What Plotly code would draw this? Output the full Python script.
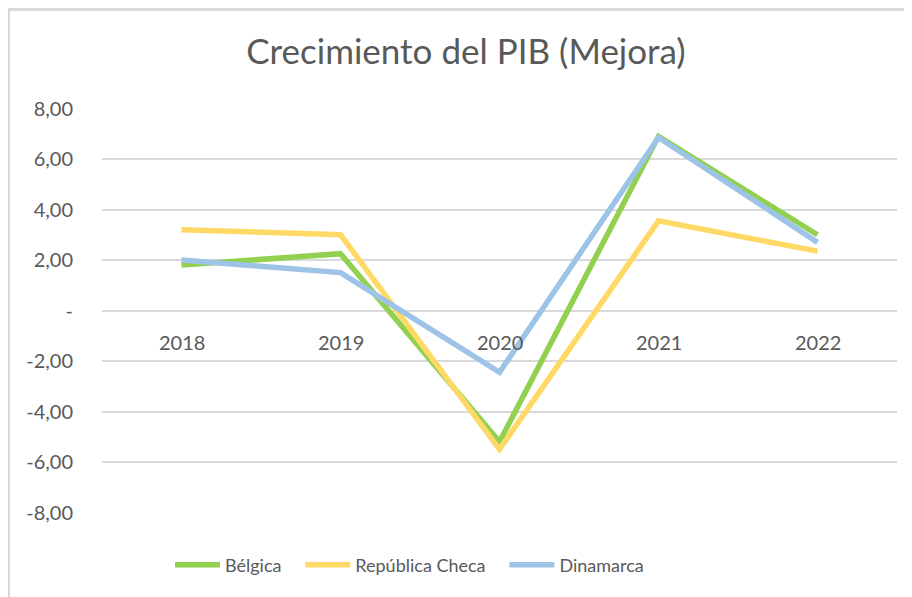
import plotly.graph_objects as go

years = ["2018", "2019", "2020", "2021", "2022"]
belgica = [1.8, 2.25, -5.2, 6.9, 3.0]
rep_checa = [3.2, 3.0, -5.5, 3.55, 2.35]
dinamarca = [2.0, 1.5, -2.45, 6.85, 2.7]
series_names = ["Bélgica", "República Checa", "Dinamarca"]

y_tickvals = [8, 6, 4, 2, 0, -2, -4, -6, -8]
y_ticktext = ["8,00", "6,00", "4,00", "2,00", "-", "-2,00", "-4,00", "-6,00", "-8,00"]

# page has an 8px body margin; positions below are in figure coordinates
OFF = 8
W, H = 912, 597
L, R, T, B = 102 - OFF, 897 - OFF, 108 - OFF, 513 - OFF

FONT = "Lato"
GREY = "#595959"
GRID = "#d9d9d9"
PAD = "\u00a0" * 3

fig = go.Figure()
colors = ["#92d050", "#ffd966", "#9dc3e6"]
for name, vals, col in zip(series_names, [belgica, rep_checa, dinamarca], colors):
    fig.add_trace(go.Scatter(x=years, y=vals, name=name + PAD, mode="lines",
                             line=dict(color=col, width=5.5)))

# x category labels placed next to the zero line
for i, yr in enumerate(years):
    fig.add_annotation(x=i, y=0, text=yr, showarrow=False, yanchor="middle",
                       yshift=-31, font=dict(family=FONT, size=20, color=GREY))

pw, ph = R - L, B - T
def px(xp):
    return (xp - OFF - L) / pw
def py(yp):
    return (B - (yp - OFF)) / ph

# chart border (top and left visible)
fig.add_shape(type="line", xref="paper", yref="paper", x0=px(7), x1=px(925),
              y0=py(9.5), y1=py(9.5), line=dict(color=GRID, width=3))
fig.add_shape(type="line", xref="paper", yref="paper", x0=px(8.5), x1=px(8.5),
              y0=py(9.5), y1=py(610), line=dict(color=GRID, width=3))

fig.update_layout(
    width=W, height=H,
    margin=dict(l=L, r=W - R, t=T, b=H - B, autoexpand=False),
    paper_bgcolor="white", plot_bgcolor="white",
    title=dict(text="Crecimiento del PIB (Mejora)", xref="container",
               x=(466 - OFF) / W, xanchor="center", y=1 - (52 - OFF) / H,
               yanchor="middle", font=dict(family=FONT, size=35, color=GREY)),
    xaxis=dict(type="category", range=[-0.5, 4.5], showticklabels=False,
               showgrid=False, zeroline=False, showline=False, ticks=""),
    yaxis=dict(range=[-8.02, 8.02], tickvals=y_tickvals, ticktext=y_ticktext,
               showgrid=True, gridcolor=GRID, gridwidth=1.5, zeroline=False,
               showline=False, ticks="", ticklabelstandoff=28,
               tickfont=dict(family=FONT, size=20, color=GREY)),
    legend=dict(orientation="h", x=px(170), xanchor="left", y=py(565),
                yanchor="middle", itemwidth=45,
                font=dict(family=FONT, size=18, color=GREY),
                bgcolor="rgba(0,0,0,0)"),
    showlegend=True,
)

fig.write_html("out.html")
